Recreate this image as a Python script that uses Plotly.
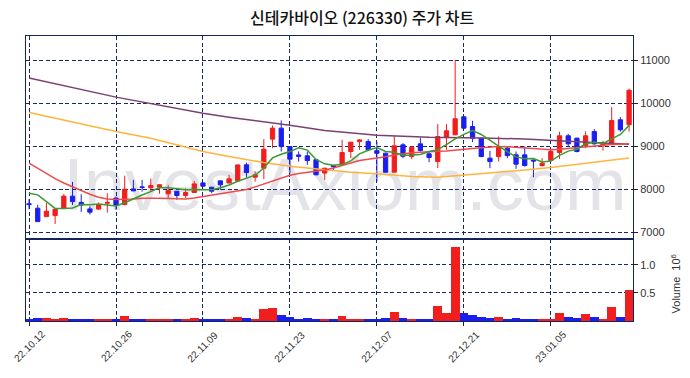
import plotly.graph_objects as go

# ---------------- data ----------------
dates = [
    "2022-10-12", "2022-10-13", "2022-10-14", "2022-10-17", "2022-10-18", "2022-10-19", "2022-10-20",
    "2022-10-21", "2022-10-24", "2022-10-25", "2022-10-26", "2022-10-27", "2022-10-28", "2022-10-31",
    "2022-11-01", "2022-11-02", "2022-11-03", "2022-11-04", "2022-11-07", "2022-11-08", "2022-11-09",
    "2022-11-10", "2022-11-11", "2022-11-14", "2022-11-15", "2022-11-16", "2022-11-17", "2022-11-18",
    "2022-11-21", "2022-11-22", "2022-11-23", "2022-11-24", "2022-11-25", "2022-11-28", "2022-11-29",
    "2022-11-30", "2022-12-01", "2022-12-02", "2022-12-05", "2022-12-06", "2022-12-07", "2022-12-08",
    "2022-12-09", "2022-12-12", "2022-12-13", "2022-12-14", "2022-12-15", "2022-12-16", "2022-12-19",
    "2022-12-20", "2022-12-21", "2022-12-22", "2022-12-23", "2022-12-26", "2022-12-27", "2022-12-28",
    "2022-12-29", "2023-01-02", "2023-01-03", "2023-01-04", "2023-01-05", "2023-01-06", "2023-01-09",
    "2023-01-10", "2023-01-11", "2023-01-12", "2023-01-13", "2023-01-16", "2023-01-17", "2023-01-18",
]

opens = [7670, 7566, 7371, 7394, 7566, 7845, 7700, 7550, 7545, 7680,
         7800, 7650, 8014, 8060, 8040, 8053, 7900, 7960, 7860, 7930,
         8153, 8053, 8200, 8150, 8200, 8571, 8285, 8494, 9167, 9422,
         8995, 8800, 8780, 8690, 8380, 8550, 8571, 8880, 9110, 9110,
         8900, 8842, 8401, 9035, 8763, 9058, 8826, 8647, 9204, 9267,
         9684, 9459, 9190, 8726, 8763, 8958, 8803, 8803, 8680, 8555,
         8671, 8856, 9244, 9190, 9012, 9343, 9012, 9080, 9615, 9500]
highs = [7775, 7643, 7689, 7543, 7900, 8176, 7890, 7610, 7700, 7914,
         7835, 8320, 8223, 8223, 8250, 8120, 8107, 7967, 8030, 8200,
         8160, 8060, 8210, 8340, 8580, 8624, 8415, 9167, 9483, 9600,
         9000, 8880, 8880, 8700, 8500, 8570, 9150, 9100, 9167, 9167,
         9100, 8850, 9240, 9074, 9000, 9200, 8880, 9515, 9515, 11000,
         9690, 9592, 9190, 8896, 9227, 9000, 8880, 9000, 8700, 8726,
         8920, 9340, 9290, 9200, 9350, 9400, 9130, 9910, 9677, 10340]
lows = [7543, 7255, 7371, 7200, 7566, 7640, 7480, 7420, 7530, 7464,
        7527, 7643, 7967, 7950, 7950, 7900, 7800, 7760, 7800, 7928,
        8060, 7914, 7990, 8146, 8200, 8285, 8183, 8240, 8958, 8880,
        8378, 8647, 8570, 8330, 8223, 8440, 8571, 8726, 8920, 8900,
        8183, 8400, 8401, 8726, 8703, 8880, 8633, 8494, 8919, 9260,
        9400, 9097, 8750, 8494, 8647, 8726, 8478, 8530, 8285, 8530,
        8671, 8710, 8995, 8860, 8958, 9040, 8900, 9035, 9343, 9343]
closes = [7650, 7255, 7497, 7543, 7845, 7720, 7640, 7475, 7643, 7700,
          7643, 8007, 7967, 8050, 8090, 8110, 7975, 7860, 7930, 8130,
          8077, 7960, 8107, 8246, 8570, 8392, 8340, 8935, 9422, 8995,
          8703, 8770, 8670, 8340, 8494, 8530, 8856, 9097, 9150, 8920,
          8840, 8401, 9012, 8770, 8981, 8903, 8740, 9227, 9360, 9638,
          9422, 9190, 8763, 8647, 8995, 8787, 8587, 8555, 8660, 8610,
          8880, 9244, 9058, 8880, 9244, 9058, 9088, 9600, 9383, 10300]

# volume in millions of shares
volumes_m = [0.036, 0.054, 0.054, 0.036, 0.054, 0.036, 0.036, 0.036, 0.018, 0.018,
             0.018, 0.090, 0.036, 0.036, 0.036, 0.018, 0.036, 0.018, 0.018, 0.054,
             0.018, 0.036, 0.036, 0.036, 0.072, 0.054, 0.018, 0.215, 0.233, 0.108,
             0.072, 0.018, 0.054, 0.036, 0.018, 0.018, 0.090, 0.036, 0.018, 0.036,
             0.036, 0.054, 0.161, 0.054, 0.036, 0.018, 0.036, 0.270, 0.144, 1.330,
             0.144, 0.108, 0.072, 0.054, 0.072, 0.036, 0.054, 0.036, 0.036, 0.036,
             0.036, 0.144, 0.072, 0.054, 0.126, 0.072, 0.036, 0.250, 0.072, 0.557]

ma5 = [7914, 7875, 7720, 7560, 7558, 7572, 7649, 7645, 7665, 7636,
       7620, 7694, 7792, 7873, 7951, 8045, 8038, 8017, 7993, 8001,
       7994, 7991, 8041, 8104, 8192, 8255, 8331, 8497, 8732, 8817,
       8879, 8965, 8912, 8696, 8595, 8561, 8578, 8663, 8825, 8911,
       8973, 8882, 8865, 8789, 8801, 8813, 8881, 8924, 9042, 9174,
       9277, 9367, 9275, 9132, 9003, 8876, 8756, 8714, 8717, 8640,
       8658, 8790, 8890, 8934, 9061, 9097, 9066, 9174, 9275, 9486]
ma20 = [8610, 8490, 8370, 8250, 8150, 8060, 7980, 7890, 7820, 7780,
        7765, 7765, 7780, 7795, 7800, 7798, 7790, 7782, 7780, 7800,
        7835, 7865, 7895, 7925, 7960, 8000, 8060, 8130, 8200, 8270,
        8330, 8370, 8400, 8425, 8450, 8500, 8560, 8620, 8670, 8700,
        8726, 8760, 8800, 8830, 8850, 8865, 8880, 8885, 8890, 8905,
        8925, 8950, 8970, 8985, 8995, 8990, 8975, 8958, 8945, 8930,
        8919, 8930, 8950, 8975, 8995, 9010, 9025, 9040, 9050, 9058]
ma60_idx = [0, 5, 10, 14, 17, 20, 23, 27, 30, 34, 37, 40, 44, 47, 50, 53, 57, 60, 63, 66, 69]
ma60_val = [9785, 9560, 9343, 9190, 9035, 8880, 8762, 8624, 8540, 8455, 8400, 8362, 8300,
            8285, 8330, 8385, 8450, 8510, 8580, 8650, 8730]
ma120_idx = [0, 10, 20, 23, 30, 34, 40, 46, 52, 57, 62, 66, 69]
ma120_val = [10582, 10141, 9765, 9677, 9490, 9370, 9260, 9213, 9195, 9170, 9120, 9085, 9050]

tick_idx = [0, 10, 20, 30, 40, 50, 60]
tick_labels = ["22.10.12", "22.10.26", "22.11.09", "22.11.23", "22.12.07", "22.12.21", "23.01.05"]
price_ticks = [7000, 8000, 9000, 10000, 11000]
price_tick_labels = ["7000", "8000", "9000", "10000", "11000"]
vol_ticks = [0.5, 1.0]
vol_tick_labels = ["0.5", "1.0"]

title_text = "신테카바이오 (226330) 주가 차트"

# ---------------- style ----------------
RED = "#f21d1d"
BLUE = "#1a1ef0"
NAVY = "#14245e"
GRID = "#14286a"

vol_colors = [RED if c >= o else BLUE for o, c in zip(opens, closes)]
tick_vals = [dates[i] for i in tick_idx]

fig = go.Figure()

fig.add_trace(go.Scatter(x=[dates[i] for i in ma120_idx], y=ma120_val, mode="lines",
                         line=dict(color="#7b3f72", width=1.5), xaxis="x", yaxis="y", hoverinfo="skip"))
fig.add_trace(go.Scatter(x=[dates[i] for i in ma60_idx], y=ma60_val, mode="lines",
                         line=dict(color="#ffb43c", width=1.5), xaxis="x", yaxis="y", hoverinfo="skip"))
fig.add_trace(go.Scatter(x=dates, y=ma20, mode="lines",
                         line=dict(color="#f04a4a", width=1.5), xaxis="x", yaxis="y", hoverinfo="skip"))
fig.add_trace(go.Scatter(x=dates, y=ma5, mode="lines",
                         line=dict(color="#3c9a32", width=1.5), xaxis="x", yaxis="y", hoverinfo="skip"))

fig.add_trace(go.Candlestick(
    x=dates, open=opens, high=highs, low=lows, close=closes,
    increasing=dict(line=dict(color=RED, width=1), fillcolor=RED),
    decreasing=dict(line=dict(color=BLUE, width=1), fillcolor=BLUE),
    whiskerwidth=0, xaxis="x", yaxis="y",
))

fig.add_trace(go.Bar(x=dates, y=volumes_m, marker=dict(color=vol_colors, line=dict(width=0)),
                     xaxis="x2", yaxis="y2"))

grid_common = dict(showgrid=True, gridcolor=GRID, gridwidth=1, griddash="4px,2.5px",
                   showline=True, linecolor=NAVY, linewidth=1, mirror=True, zeroline=False,
                   automargin=False)

# date labels rotated 45 degrees and centred under their ticks
date_label_annotations = [
    dict(text=lab, xref="x2", yref="paper", x=d, y=-0.017, xanchor="center", yanchor="top",
         textangle=-45, showarrow=False, font=dict(family="Liberation Sans, Arial", size=10, color="#333333"))
    for d, lab in zip(tick_vals, tick_labels)
]

fig.update_layout(
    width=690, height=378, autosize=False,
    margin=dict(l=26, r=57, t=36, b=57),
    paper_bgcolor="white", plot_bgcolor="white",
    showlegend=False, boxgap=0.3, bargap=0,
    font=dict(family="Liberation Sans, Arial, sans-serif", color="#333333"),
    xaxis=dict(domain=[0, 1], anchor="y", type="category", categoryorder="array",
               categoryarray=dates, range=[-0.35, 69.45], tickvals=tick_vals,
               showticklabels=False, ticks="", rangeslider=dict(visible=False), **grid_common),
    xaxis2=dict(domain=[0, 1], anchor="y2", type="category", categoryorder="array",
                categoryarray=dates, range=[-0.35, 69.45], matches="x", tickvals=tick_vals,
                showticklabels=False, ticks="outside", ticklen=4,
                tickcolor="#222222", **grid_common),
    yaxis=dict(domain=[0.2877, 1], anchor="x", side="right", range=[6852, 11558],
               tickvals=price_ticks, ticktext=price_tick_labels, ticks="outside", ticklen=4,
               tickcolor="#222222", tickfont=dict(size=11, color="#333333"), **grid_common),
    yaxis2=dict(domain=[0, 0.2877], anchor="x2", side="right", range=[0, 1.464],
                tickvals=vol_ticks, ticktext=vol_tick_labels, ticks="outside", ticklen=4,
                tickcolor="#222222", tickfont=dict(size=11, color="#333333"), **grid_common),
    shapes=[dict(type="rect", xref="paper", yref="paper", x0=0.03, x1=1.021, y0=0.443, y1=0.563,
                 line=dict(width=0), fillcolor="rgba(0,0,0,0)", layer="below",
                 label=dict(text="InvestAxiom.com", textposition="middle center",
                            font=dict(family="Liberation Sans, Arial", size=74, color="#e4e4e8")))],
    annotations=[
        dict(text=title_text, xref="paper", yref="paper", x=0.5535, y=1.066,
             xanchor="center", yanchor="middle", showarrow=False,
             font=dict(family="Noto Sans CJK KR", size=16, color="#111111", weight=500)),
        dict(text="Volume  10<sup>6</sup>", xref="paper", yref="paper", x=1.07, y=0.13,
             xanchor="center", yanchor="middle", textangle=-90, showarrow=False,
             font=dict(family="Liberation Sans, Arial", size=11, color="#333333")),
    ] + date_label_annotations,
)

fig.write_html("out.html", post_script="document.body.style.margin='0';",
               config={"displayModeBar": False})
